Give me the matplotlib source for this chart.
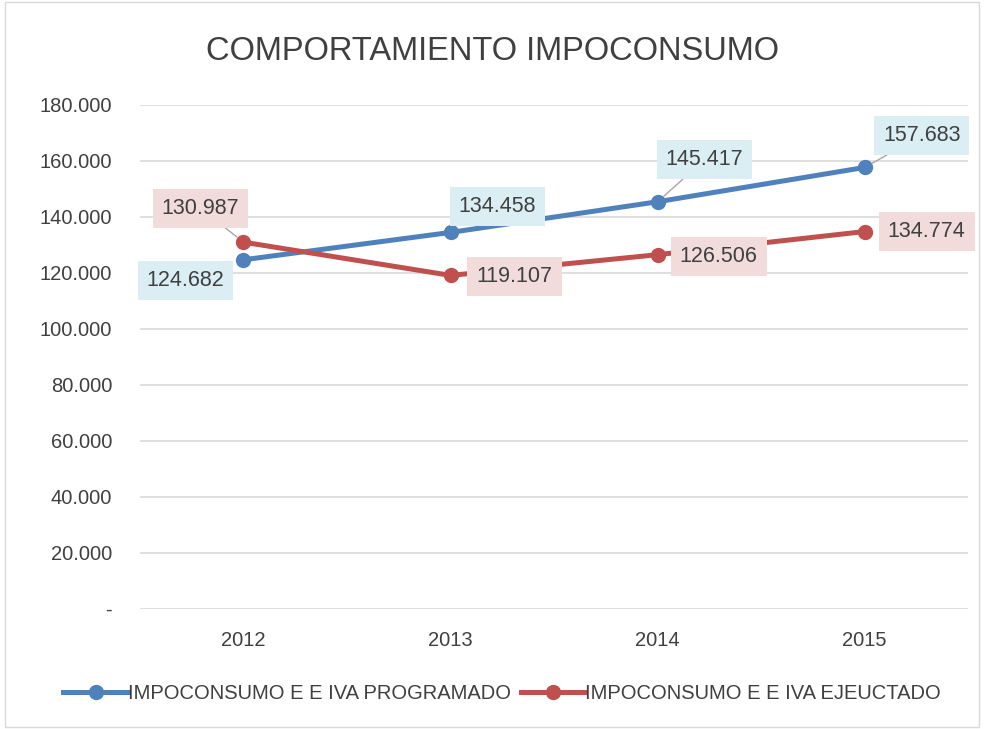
import matplotlib.pyplot as plt
from matplotlib.patches import Rectangle

plt.rcParams['font.family'] = ['Liberation Sans', 'DejaVu Sans']

years = ['2012', '2013', '2014', '2015']
programado = [124.682, 134.458, 145.417, 157.683]
ejecutado = [130.987, 119.107, 126.506, 134.774]
yticks = [0, 20, 40, 60, 80, 100, 120, 140, 160, 180]

blue = '#4F81BD'
red = '#C0504D'
txt = '#404040'

fig = plt.figure(figsize=(9.85, 7.29), dpi=100)
ax = fig.add_axes([0.142, 0.165, 0.841, 0.691])

x = range(len(years))
ax.plot(x, programado, color=blue, lw=3.6, marker='o', ms=10,
        label='IMPOCONSUMO E E IVA PROGRAMADO', zorder=3)
ax.plot(x, ejecutado, color=red, lw=3.6, marker='o', ms=10,
        label='IMPOCONSUMO E E IVA EJEUCTADO', zorder=3)

ax.set_xlim(-0.5, 3.5)
ax.set_ylim(0, 180)
ax.set_yticks(yticks)
ax.set_yticklabels(['-' if v == 0 else f'{v:.3f}' for v in yticks])
ax.set_xticks(list(x))
ax.set_xticklabels(years)
ax.tick_params(length=0, labelsize=14.5, colors=txt)
ax.tick_params(axis='y', pad=20)
ax.tick_params(axis='x', pad=16)
ax.grid(axis='y', color='#D9D9D9', lw=1.2)
ax.set_axisbelow(True)
for s in ax.spines.values():
    s.set_visible(False)

# label offsets in pixels (dx, dy), leader line flag
blue_off = [(-58, -21, False), (47, 26, False), (47, 42, True), (57, 32, True)]
red_off = [(-43, 34, True), (64, -1, False), (61, -2, False), (62, 0, False)]

def labels(vals, offs, face):
    for i, (v, (dx, dy, lead)) in enumerate(zip(vals, offs)):
        ap = dict(arrowstyle='-', color='#A6A6A6', lw=1, shrinkA=0, shrinkB=6) if lead else None
        ax.annotate(f'{v:.3f}', (i, v), xytext=(dx, dy), textcoords='offset pixels',
                    ha='center', va='center', fontsize=15.5, color=txt,
                    bbox=dict(boxstyle='square,pad=0.42', fc=face, ec='none'),
                    arrowprops=ap, zorder=4)

labels(programado, blue_off, '#DAEEF3')
labels(ejecutado, red_off, '#F2DCDB')

fig.text(0.5, 0.93, 'COMPORTAMIENTO IMPOCONSUMO', ha='center', va='center',
         fontsize=23.5, color=txt)

fig.legend(loc='center', bbox_to_anchor=(0.51, 0.049), ncol=2, frameon=False,
           fontsize=14.5, handlelength=3.2, handletextpad=0.0, columnspacing=0.5,
           labelcolor=txt)

fig.patches.append(Rectangle((0.005, 0.003), 0.989, 0.994, transform=fig.transFigure,
                             fill=False, ec='#D9D9D9', lw=1))

fig.savefig('out.png', dpi=100)
